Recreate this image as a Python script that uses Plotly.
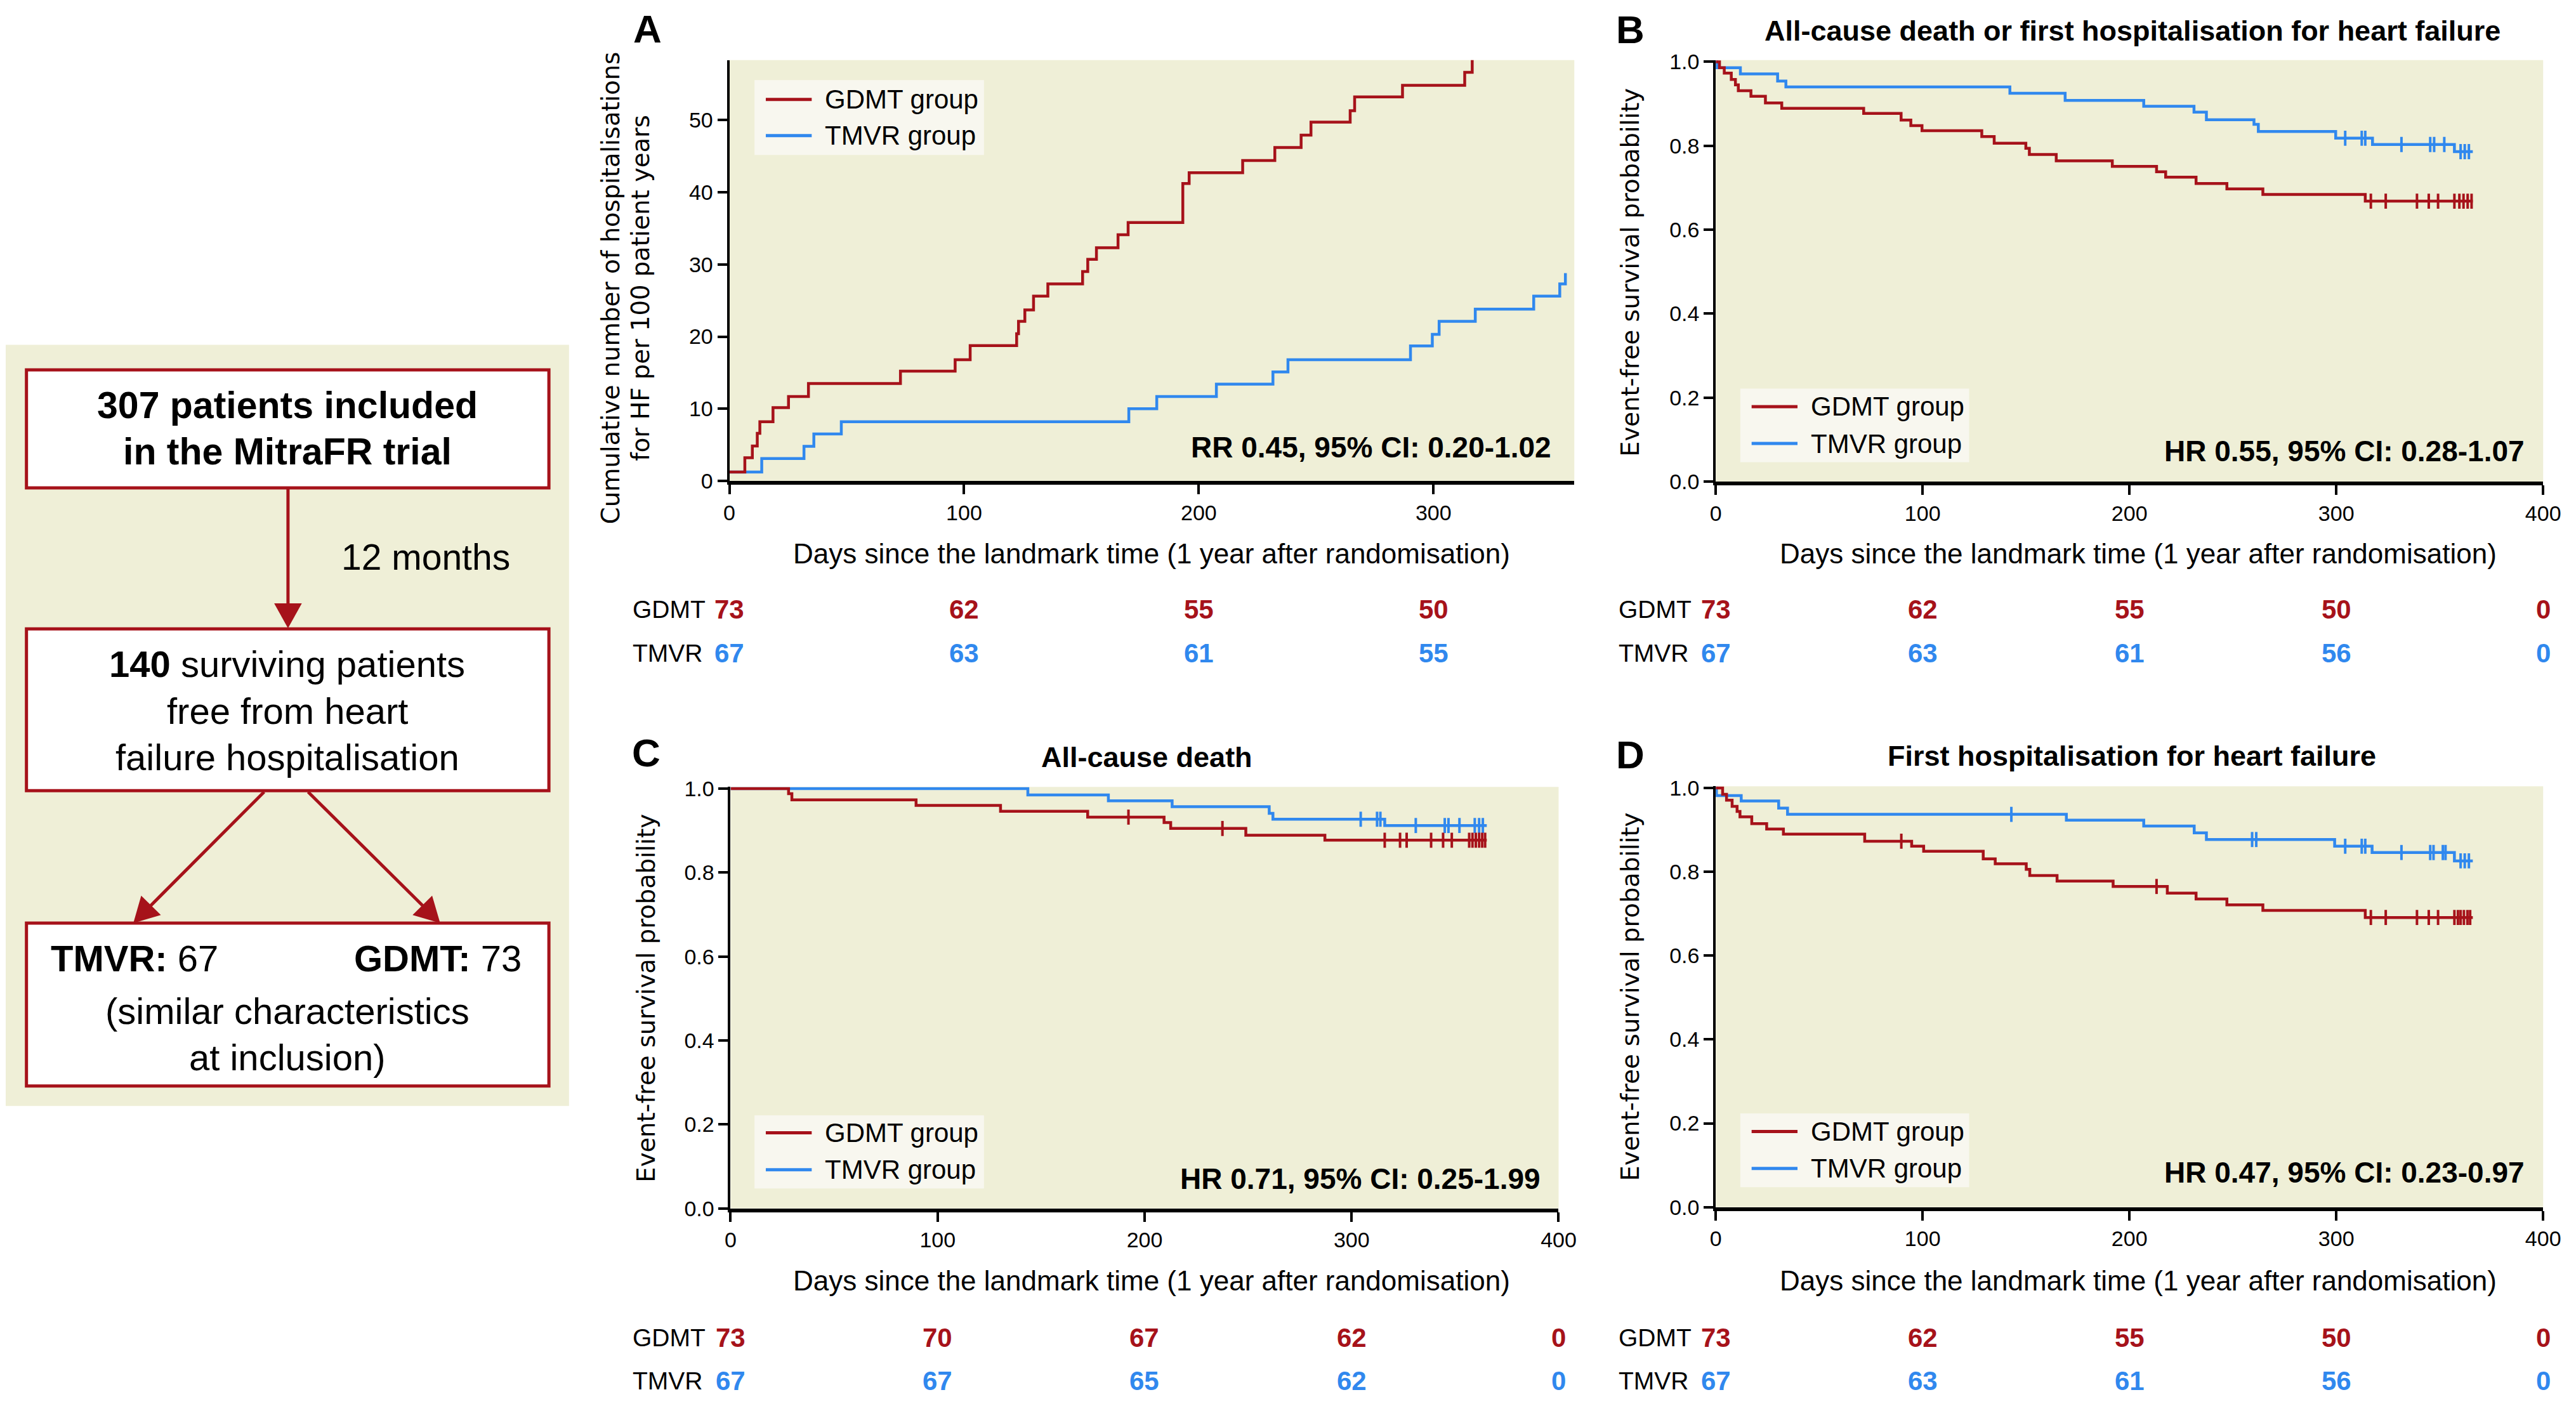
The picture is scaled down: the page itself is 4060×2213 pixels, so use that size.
import plotly.graph_objects as go

W, H = 4060, 2213

# ---------------- data ----------------
# Panel A: cumulative number of HF hospitalisations per 100 patient-years
A_gdmt_days = [0, 6.6, 9.8, 11.9, 13.0, 18.6, 25.2, 33.7, 72.9, 96.2, 102.6, 122.4, 123.2, 125.9,
               129.6, 135.7, 150.5, 152.7, 156.4, 165.6, 169.9, 193.2, 195.9, 218.7, 232.4, 243.6,
               247.8, 264.5, 266.4, 286.8, 313.3, 316.5]
A_gdmt_rate = [1.24, 3.22, 4.85, 6.6, 8.2, 10.15, 11.7, 13.5, 15.2, 16.8, 18.75, 20.4, 22.1, 23.7,
               25.6, 27.3, 29.0, 30.7, 32.3, 34.1, 35.8, 41.2, 42.7, 44.4, 46.2, 47.9,
               49.7, 51.3, 53.2, 54.8, 56.6, 59.0]
A_tmvr_days = [0, 13.8, 31.8, 36.0, 47.7, 170.2, 182.1, 207.5, 231.6, 238.0, 290.2, 299.5, 302.4,
               317.8, 342.7, 353.8, 356.2]
A_tmvr_rate = [1.24, 3.1, 4.8, 6.5, 8.2, 10.0, 11.7, 13.4, 15.1, 16.8, 18.7, 20.3, 22.1,
               23.8, 25.6, 27.3, 28.8]

# Panel B: all-cause death or first HF hospitalisation (Kaplan-Meier)
B_gdmt_t = [1.8, 4.1, 7.5, 9.5, 10.9, 17.0, 24.0, 31.9, 71.5, 89.6, 94.3, 99.7, 128.6, 134.6,
            149.9, 151.6, 164.6, 191.7, 213.1, 217.5, 232.2, 247.1, 264.5, 314.0]
B_gdmt_s = [0.986, 0.973, 0.958, 0.945, 0.931, 0.918, 0.902, 0.889, 0.877, 0.861, 0.848, 0.836,
            0.822, 0.806, 0.794, 0.779, 0.764, 0.751, 0.738, 0.725, 0.710, 0.697, 0.684, 0.668]
B_gdmt_cens = [316.7, 323.9, 339.0, 344.7, 349.2, 357.1, 359.5, 361.5, 363.5, 365.4]
B_tmvr_t = [0.5, 11.9, 29.9, 33.9, 142.2, 168.9, 206.9, 231.2, 237.2, 260.2, 262.3, 299.7, 317.5, 357.1]
B_tmvr_s = [0.986, 0.971, 0.954, 0.940, 0.925, 0.908, 0.894, 0.880, 0.862, 0.851, 0.834, 0.818,
            0.803, 0.786]
B_tmvr_cens = [304.3, 312.3, 314.0, 331.5, 345.4, 347.3, 352.2, 360.1, 362.1, 364.1]
B_end = 366

# Panel C: all-cause death
C_gdmt_t = [28.0, 29.6, 89.6, 130.4, 172.5, 209.4, 212.6, 248.9, 287.1]
C_gdmt_s = [0.988, 0.973, 0.960, 0.946, 0.932, 0.919, 0.905, 0.889, 0.877]
C_gdmt_cens = [192.2, 237.6, 316.0, 323.4, 326.6, 338.4, 344.2, 348.4, 356.8, 358.4, 360.0,
               361.6, 363.1, 364.5]
C_tmvr_t = [143.6, 182.5, 213.3, 260.2, 262.0, 316.0]
C_tmvr_s = [0.985, 0.971, 0.957, 0.941, 0.927, 0.912]
C_tmvr_cens = [304.4, 312.3, 313.9, 331.0, 345.0, 346.8, 352.1, 359.5, 361.6, 363.4]
C_end = 365.3

# Panel D: first HF hospitalisation
D_gdmt_t = [3.3, 5.2, 7.9, 10.3, 11.7, 17.4, 24.6, 32.7, 72.0, 94.7, 100.5, 129.3, 135.1, 150.1,
            151.8, 165.0, 192.1, 218.3, 232.2, 247.1, 264.5, 314.0]
D_gdmt_s = [0.985, 0.971, 0.956, 0.944, 0.931, 0.915, 0.902, 0.890, 0.873, 0.861, 0.849, 0.831,
            0.819, 0.806, 0.791, 0.778, 0.765, 0.749, 0.735, 0.721, 0.708, 0.691]
D_gdmt_cens = [89.7, 213.1, 316.7, 323.9, 339.0, 344.7, 349.2, 357.1, 358.8, 360.1, 361.7,
               363.4, 364.7]
D_tmvr_t = [0.3, 12.3, 30.4, 34.7, 169.5, 206.9, 231.3, 237.2, 299.2, 317.3, 357.1]
D_tmvr_s = [0.982, 0.969, 0.952, 0.937, 0.923, 0.909, 0.893, 0.877, 0.861, 0.846, 0.826]
D_tmvr_cens = [142.9, 259.3, 261.3, 304.3, 312.3, 314.0, 331.5, 345.4, 347.0, 351.5, 352.8,
               360.1, 362.1, 364.1]
D_end = 366

# numbers at risk
risk_days_A = [0, 100, 200, 300]
risk_days = [0, 100, 200, 300, 400]
risk_A_gdmt = [73, 62, 55, 50]
risk_A_tmvr = [67, 63, 61, 55]
risk_B_gdmt = [73, 62, 55, 50, 0]
risk_B_tmvr = [67, 63, 61, 56, 0]
risk_C_gdmt = [73, 70, 67, 62, 0]
risk_C_tmvr = [67, 67, 65, 62, 0]
risk_D_gdmt = [73, 62, 55, 50, 0]
risk_D_tmvr = [67, 63, 61, 56, 0]

effect_A = "RR 0.45, 95% CI: 0.20-1.02"
effect_B = "HR 0.55, 95% CI: 0.28-1.07"
effect_C = "HR 0.71, 95% CI: 0.25-1.99"
effect_D = "HR 0.47, 95% CI: 0.23-0.97"

# ---------------- style ----------------
RED = '#A6121A'
BLUE = '#3088EE'
BEIGE = '#EFEFD7'
LEG_BG = '#F8F7EF'
COND = "Liberation Sans, Arial, sans-serif"
WIDE = "DejaVu Sans, Verdana, sans-serif"
LW = 4.5


def px(x):
    return x / W


def py(y):
    return 1 - y / H


fig = go.Figure()


def step_at(times, surv, t):
    s = 1.0
    for ti, si in zip(times, surv):
        if ti <= t:
            s = si
    return s


def add_km(xa, ya, t, s, cens, end, color, name):
    x = [0] + list(t) + [end]
    y = [1.0] + list(s) + [s[-1]]
    fig.add_trace(go.Scatter(x=x, y=y, mode='lines', line=dict(color=color, width=LW, shape='hv'),
                             name=name, xaxis=xa, yaxis=ya, showlegend=False))
    fig.add_trace(go.Scatter(x=cens, y=[step_at(t, s, c) for c in cens], mode='markers',
                             marker=dict(symbol='line-ns', size=17, line=dict(width=4, color=color)),
                             xaxis=xa, yaxis=ya, showlegend=False, name=name + ' censored'))


# Panel A
fig.add_trace(go.Scatter(x=A_tmvr_days, y=A_tmvr_rate, mode='lines', line=dict(color=BLUE, width=LW, shape='hv'),
                         xaxis='x', yaxis='y', showlegend=False, name='TMVR group'))
fig.add_trace(go.Scatter(x=A_gdmt_days, y=A_gdmt_rate, mode='lines', line=dict(color=RED, width=LW, shape='hv'),
                         xaxis='x', yaxis='y', showlegend=False, name='GDMT group'))
# Panels B-D
add_km('x2', 'y2', B_tmvr_t, B_tmvr_s, B_tmvr_cens, B_end, BLUE, 'TMVR group')
add_km('x2', 'y2', B_gdmt_t, B_gdmt_s, B_gdmt_cens, B_end, RED, 'GDMT group')
add_km('x3', 'y3', C_tmvr_t, C_tmvr_s, C_tmvr_cens, C_end, BLUE, 'TMVR group')
add_km('x3', 'y3', C_gdmt_t, C_gdmt_s, C_gdmt_cens, C_end, RED, 'GDMT group')
add_km('x4', 'y4', D_tmvr_t, D_tmvr_s, D_tmvr_cens, D_end, BLUE, 'TMVR group')
add_km('x4', 'y4', D_gdmt_t, D_gdmt_s, D_gdmt_cens, D_end, RED, 'GDMT group')

axis_common = dict(showline=True, linecolor='black', ticks='outside', ticklen=15, tickwidth=4,
                   tickcolor='black', showgrid=False, zeroline=False,
                   tickfont=dict(family=COND, size=34, color='black'))

panels = {
    '': dict(xd=(1151, 2495), yd=(80, 754)),
    '2': dict(xd=(2720, 4036), yd=(80, 755)),
    '3': dict(xd=(1153, 2470), yd=(1244, 1919)),
    '4': dict(xd=(2720, 4036), yd=(1243, 1917)),
}
for k, p in panels.items():
    xd = [px(p['xd'][0]), px(p['xd'][1])]
    yd = [py(p['yd'][1]), py(p['yd'][0])]
    if k == '':
        xr, xt = [0, 360], [0, 100, 200, 300]
        yr, yt, yf = [0, 58.3], [0, 10, 20, 30, 40, 50], None
    else:
        xr, xt = [0, 400], [0, 100, 200, 300, 400]
        yr, yt, yf = [0, 1.004], [0, 0.2, 0.4, 0.6, 0.8, 1.0], '.1f'
    fig.layout['xaxis' + k] = dict(domain=xd, range=xr, tickvals=xt, anchor='y' + k, linewidth=6, **axis_common)
    ya = dict(domain=yd, range=yr, tickvals=yt, anchor='x' + k, linewidth=4, **axis_common)
    if yf:
        ya['tickformat'] = yf
    fig.layout['yaxis' + k] = ya

ann = []
shapes = []


def text(x, y, s, size, family=COND, bold=False, color='black', xanchor='center', angle=0, xref='paper'):
    ann.append(dict(x=x if xref != 'paper' else px(x), y=py(y), xref=xref, yref='paper', text=s,
                    showarrow=False, xanchor=xanchor, yanchor='middle', textangle=angle,
                    font=dict(family=family, size=size, color=color, weight='bold' if bold else 'normal')))


# panel letters and titles
text(1021, 30, 'A', 62, bold=True)
text(2584, 31, 'B', 62, bold=True)
text(1019, 1189, 'C', 62, bold=True)
text(2584, 1192, 'D', 62, bold=True)
text(3383, 33, 'All-cause death or first hospitalisation for heart failure', 45, bold=True)
text(1815, 1196, 'All-cause death', 45, bold=True)
text(3382, 1194, 'First hospitalisation for heart failure', 45, bold=True)

# axis titles
xt_title = 'Days since the landmark time (1 year after randomisation)'
for (x, y) in [(1823, 870), (3392, 870), (1823, 2035), (3392, 2035)]:
    text(x, y, xt_title, 44)
text(963, 445, 'Cumulative number of hospitalisations', 38.5, family=WIDE, angle=-90)
text(1010, 445, 'for HF per 100 patient years', 38.5, family=WIDE, angle=-90)
for (x, y) in [(2584, 420), (1019, 1582), (2584, 1580)]:
    text(x, y, 'Event-free survival probability', 38.5, family=WIDE, angle=-90)

# effect estimates
text(2460, 700, effect_A, 46, bold=True, xanchor='right')
text(4009, 706, effect_B, 46, bold=True, xanchor='right')
text(2443, 1872, effect_C, 46, bold=True, xanchor='right')
text(4009, 1861, effect_D, 46, bold=True, xanchor='right')

# legends (manual)
for (bx0, by0, bx1, by1, r1, r2) in [(1191, 112, 1556, 232, 143, 201), (2759, 606, 3123, 724, 635, 694),
                                      (1191, 1770, 1556, 1887, 1798, 1857), (2759, 1767, 3123, 1885, 1796, 1855)]:
    shapes.append(dict(type='rect', xref='paper', yref='paper', x0=px(bx0), x1=px(bx1), y0=py(by1), y1=py(by0),
                       fillcolor=LEG_BG, line=dict(width=0)))
    for (ry, col, lab) in [(r1, RED, 'GDMT group'), (r2, BLUE, 'TMVR group')]:
        shapes.append(dict(type='line', xref='paper', yref='paper', x0=px(bx0 + 18), x1=px(bx0 + 91),
                           y0=py(ry), y1=py(ry), line=dict(color=col, width=5)))
        text(bx0 + 110, ry, lab, 42, xanchor='left')

# numbers at risk
risk_sets = [('x', risk_days_A, risk_A_gdmt, risk_A_tmvr, 960, 1030, 995),
             ('x2', risk_days, risk_B_gdmt, risk_B_tmvr, 960, 1030, 2563),
             ('x3', risk_days, risk_C_gdmt, risk_C_tmvr, 2126, 2195, 995),
             ('x4', risk_days, risk_D_gdmt, risk_D_tmvr, 2126, 2195, 2563)]
for (xa, days, g, t, yg, yt, lx) in risk_sets:
    text(lx, yg, 'GDMT', 39, xanchor='left')
    text(lx, yt, 'TMVR', 39, xanchor='left')
    for d, n in zip(days, g):
        text(d, yg, str(n), 42, bold=True, color=RED, xref=xa)
    for d, n in zip(days, t):
        text(d, yt, str(n), 42, bold=True, color=BLUE, xref=xa)

# ---------------- flowchart ----------------
shapes.append(dict(type='rect', xref='paper', yref='paper', x0=px(0), x1=px(896), y0=py(1755), y1=py(536),
                   fillcolor=BEIGE, line=dict(width=0), layer='below'))
for (x0, y0, x1, y1) in [(33, 576, 864, 765), (33, 991, 864, 1250), (33, 1462, 864, 1723)]:
    shapes.append(dict(type='rect', xref='paper', yref='paper', x0=px(x0), x1=px(x1), y0=py(y1), y1=py(y0),
                       fillcolor='white', line=dict(color=RED, width=5)))


def arrow(xs, ys, xt_, yt_, head=40, half=22):
    dx, dy = xt_ - xs, yt_ - ys
    L = (dx * dx + dy * dy) ** 0.5
    ux, uy = dx / L, dy / L
    bx, by = xt_ - ux * head, yt_ - uy * head
    shapes.append(dict(type='line', xref='paper', yref='paper', x0=px(xs), y0=py(ys), x1=px(bx + ux * 4),
                       y1=py(by + uy * 4), line=dict(color=RED, width=5)))
    p1 = (bx - uy * half, by + ux * half)
    p2 = (bx + uy * half, by - ux * half)
    path = 'M {} {} L {} {} L {} {} Z'.format(px(xt_), py(yt_), px(p1[0]), py(p1[1]), px(p2[0]), py(p2[1]))
    shapes.append(dict(type='path', xref='paper', yref='paper', path=path, fillcolor=RED, line=dict(width=0)))


arrow(449, 767, 449, 990)
arrow(411, 1252, 203, 1462)
arrow(481, 1252, 691, 1462)

text(448, 633, '307 patients included', 59, bold=True)
text(448, 707, 'in the MitraFR trial', 59, bold=True)
text(668, 876, '12 months', 57)
text(448, 1047, '<b>140</b> surviving patients', 58)
text(448, 1122, 'free from heart', 58)
text(448, 1196, 'failure hospitalisation', 58)
text(70, 1519, '<b>TMVR:</b> 67', 58, xanchor='left')
text(822, 1519, '<b>GDMT:</b> 73', 58, xanchor='right')
text(448, 1603, '(similar characteristics', 58)
text(448, 1677, 'at inclusion)', 58)

fig.update_layout(width=W, height=H, margin=dict(l=0, r=0, t=0, b=0, pad=0), paper_bgcolor='white',
                  plot_bgcolor=BEIGE, showlegend=False, annotations=ann, shapes=shapes,
                  font=dict(family=COND, color='black'))

fig.write_html("out.html", config={'displayModeBar': False},
               post_script="document.body.style.margin='0';document.body.style.overflow='hidden';")
